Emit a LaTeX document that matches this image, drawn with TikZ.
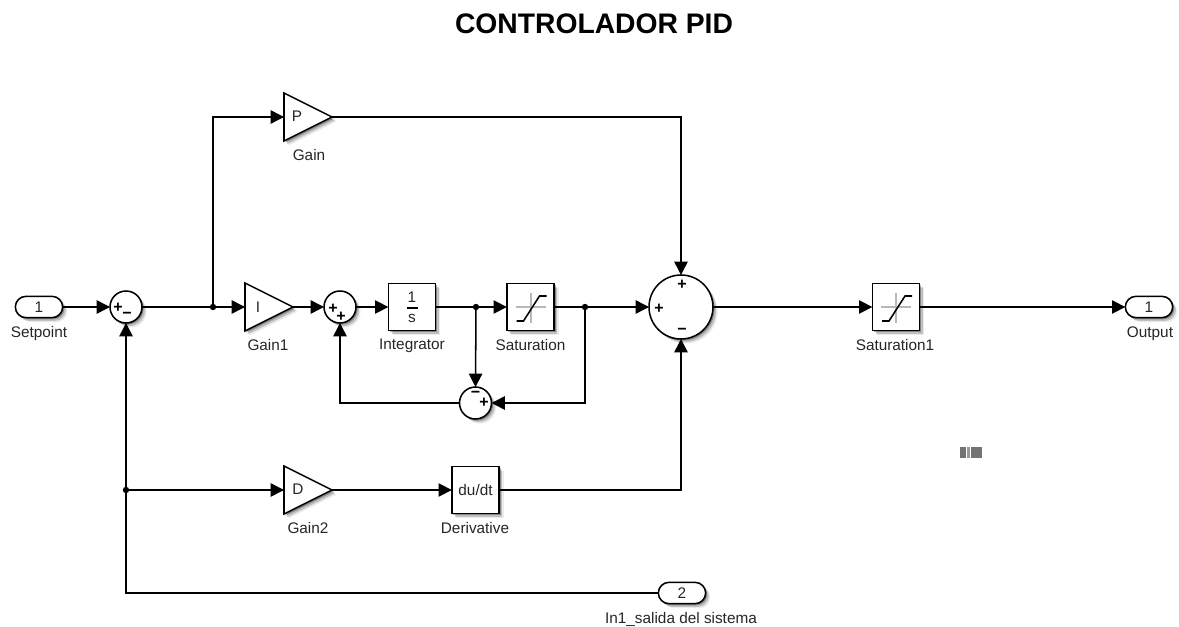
\documentclass[tikz,border=0pt]{standalone}
\usepackage{fontspec}
\setmainfont{Liberation Sans}
\usetikzlibrary{arrows.meta,shapes.geometric,shadows}
\definecolor{ink}{HTML}{262626}
\newcommand{\lblfont}{\fontsize{11.5pt}{13pt}\selectfont}
\newcommand{\minussign}{\symbol{"2212}}
\tikzset{
  px/.style={x=0.75pt,y=-0.75pt},
  softshadow/.style={drop shadow={shadow xshift=1.2pt,shadow yshift=-1.2pt,opacity=.3,fill=black},
                     drop shadow={shadow xshift=2.4pt,shadow yshift=-2.4pt,opacity=.18,fill=black},
                     drop shadow={shadow xshift=3.4pt,shadow yshift=-3.4pt,opacity=.08,fill=black}},
  wire/.style={line width=1.15pt,black,-{Triangle[length=10pt,width=10pt]}},
  plainwire/.style={line width=1.15pt,black},
  blockbox/.style={draw=black,fill=white,line width=1.15pt,minimum width=35.5pt,minimum height=35.5pt,inner sep=0pt,outer sep=0pt,softshadow,text=ink,font=\lblfont},
  gainshape/.style={isosceles triangle,isosceles triangle stretches,shape border rotate=0,draw=black,fill=white,line width=1.15pt,minimum width=36pt,minimum height=36pt,inner sep=0pt,outer sep=0pt,anchor=lower side,softshadow},
  sumshape/.style={circle,draw=black,fill=white,line width=1.15pt,minimum size=24pt,inner sep=0pt,outer sep=0pt,softshadow},
  bigsum/.style={sumshape,minimum size=48pt},
  portbox/.style={rectangle,rounded corners=8pt,draw=black,fill=white,line width=1.15pt,minimum width=35.5pt,minimum height=16pt,inner sep=0pt,outer sep=0pt,softshadow,text=ink,font=\lblfont},
  dotnode/.style={circle,fill=black,minimum size=4.8pt,inner sep=0pt,outer sep=0pt},
  lbl/.style={text=ink,font=\lblfont,inner sep=0pt},
  sgn/.style={text=black,font=\bfseries\fontsize{12pt}{12pt}\selectfont,inner sep=0pt},
  graycross/.style={line width=1.5pt,black!28},
  sathere/.style={line width=1.15pt,black},
}
\begin{document}
\begin{tikzpicture}[px]
\useasboundingbox (0,0) rectangle (1179,627);
\fill[white] (0,0) rectangle (1179,627);
% title
\node[inner sep=0pt,text=black,font=\bfseries\fontsize{21.2pt}{24pt}\selectfont] (title) at (594,24) {CONTROLADOR PID};
% blocks
\node[portbox] (inp) at (39,307) {1};
\node[sumshape] (s1) at (126,307) {};
\node[gainshape] (g1) at (245,307) {};
\node[sumshape] (s2) at (340,307) {};
\node[blockbox] (int) at (412,307) {};
\node[blockbox] (sat) at (530.5,307) {};
\node[sumshape] (s3) at (475.5,403) {};
\node[bigsum] (big) at (681,307) {};
\node[blockbox] (sat1) at (896,307) {};
\node[portbox] (out) at (1149,307) {1};
\node[gainshape] (gp) at (284,117) {};
\node[gainshape] (g2) at (284,490) {};
\node[blockbox] (der) at (475.5,490) {du/dt};
\node[portbox] (inb) at (682,593) {2};
% junctions
\node[dotnode] (j1) at (213,307) {};
\node[dotnode] (j2) at (476,307) {};
\node[dotnode] (j3) at (585,307) {};
\node[dotnode] (j4) at (126,490) {};
% block letters
\node[lbl] (lp) at (297,116) {P};
\node[lbl] (li) at (258,307) {I};
\node[lbl] (ld) at (298,489) {D};
\node[lbl] (one) at (412,297) {1};
\node[lbl] (ess) at (412,318) {s};
\draw[line width=1.15pt,black] (406.5,308) -- (417.5,308);
% saturation icons
\foreach \cx in {530.5,896}{
  \draw[graycross] (\cx-15,307.5) -- (\cx+15,307.5);
  \draw[graycross] (\cx,293) -- (\cx,323);
  \draw[sathere] (\cx-14,321) -- (\cx-7,321) -- (\cx+9,296) -- (\cx+16,296);
}
% sum signs
\node[sgn] at (118,308) {+};
\node[sgn] at (127,315.5) {\minussign};
\node[sgn] at (333,309) {+};
\node[sgn] at (341,317) {+};
\node[sgn] at (475.5,394) {\minussign};
\node[sgn] at (484,403) {+};
\node[sgn] at (682,284.5) {+};
\node[sgn] at (659,308.5) {+};
\node[sgn] at (682,331.5) {\minussign};
% labels
\node[lbl] (lsetp) at (39,334) {Setpoint};
\node[lbl] (lg1) at (268,345) {Gain1};
\node[lbl] (lint) at (412,346) {Integrator};
\node[lbl] (lsat) at (530.5,345) {Saturation};
\node[lbl] (lsat1) at (895,345) {Saturation1};
\node[lbl] (lout) at (1150,334) {Output};
\node[lbl] (lgp) at (309,155) {Gain};
\node[lbl] (lg2) at (308,528) {Gain2};
\node[lbl] (lder) at (475,528) {Derivative};
\node[lbl] (linb) at (681,619) {In1\_salida del sistema};
% connectors
\draw[wire] (inp.east) -- (s1.west);
\draw[plainwire] (s1.east) -- (j1.center);
\draw[wire] (j1.center) -- (g1.lower side);
\draw[wire] (j1.center) |- (gp.lower side);
\draw[wire] (gp.apex) -| (big.north);
\draw[wire] (g1.apex) -- (s2.west);
\draw[wire] (s2.east) -- (int.west);
\draw[plainwire] (int.east) -- (j2.center);
\draw[wire] (j2.center) -- (sat.west);
\draw[wire] (j2.center) -- (s3.north);
\draw[plainwire] (sat.east) -- (j3.center);
\draw[wire] (j3.center) -- (big.west);
\draw[wire] (j3.center) |- (s3.east);
\draw[wire] (s3.west) -| (s2.south);
\draw[wire] (big.east) -- (sat1.west);
\draw[wire] (sat1.east) -- (out.west);
\draw[wire] (inb.west) -| (s1.south);
\draw[wire] (j4.center) -- (g2.lower side);
\draw[wire] (g2.apex) -- (der.west);
\draw[wire] (der.east) -| (big.south);
% small status marker
\fill[black!55] (960,447) rectangle (966,458);
\fill[black!40] (967,447) rectangle (970,458);
\fill[black!55] (971,447) rectangle (982,458);
\end{tikzpicture}
\end{document}
